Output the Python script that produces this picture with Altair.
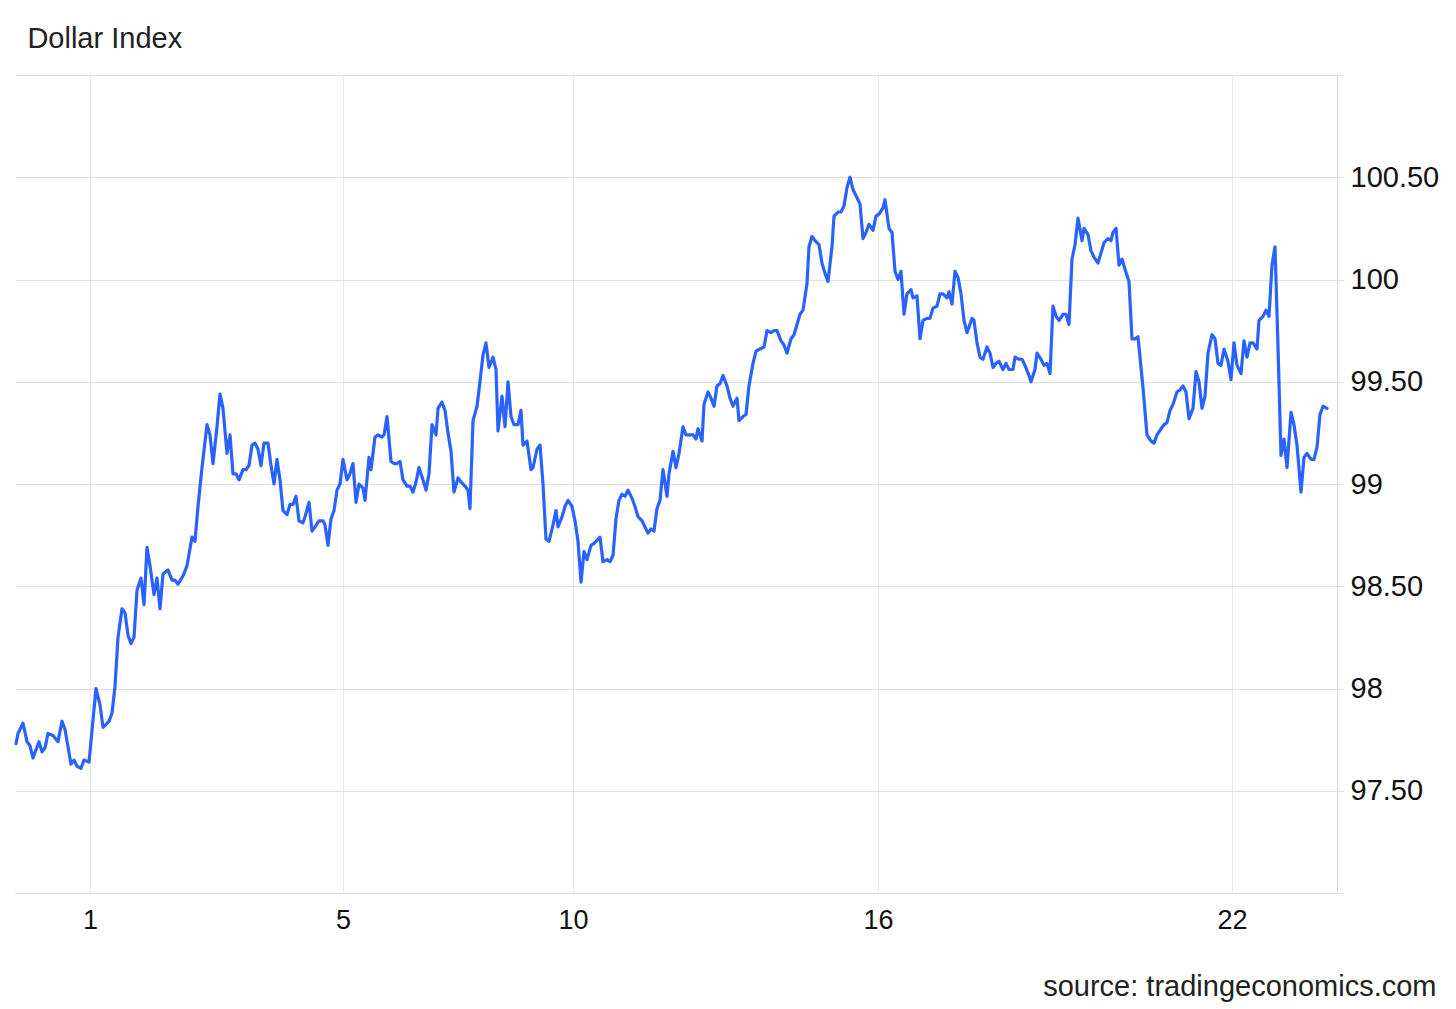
import altair as alt
import pandas as pd

# session time index (trading-time units) and Dollar Index values
T = [0.5, 1.5, 4, 6, 7.5, 9, 12, 13.5, 15, 16.5, 19, 21.5, 23.5, 25, 28, 29.5, 31, 33, 34.5, 37,
     40.5, 42.5, 44, 46, 47, 48.5, 50, 51.5, 53.5, 55, 56.5, 58, 59.5, 61, 63, 64.5, 66, 67.5, 69.5, 71,
     72.5, 74, 76.5, 78.5, 80, 81.5, 84, 86, 88.5, 90, 91.5, 93.5, 96, 97.5, 99, 101, 102.5, 104, 106, 107.5,
     109, 110.5, 112, 114, 115.5, 117, 118.5, 120, 121.5, 123, 124.5, 126.5, 128, 129.5, 131, 132.5, 134, 136, 137.5, 139,
     140.5, 142, 144, 145, 147, 148.5, 150, 152, 154, 155, 156.5, 158, 159.5, 161, 162.5, 164, 166, 167.5, 169, 170.5,
     172, 174, 175, 177, 178, 180, 181.5, 183.5, 184.5, 186, 188, 189.5, 191, 192.5, 194, 196, 197.5, 199, 200.5, 202,
     204, 205.5, 207, 208.5, 210.5, 211.5, 213.5, 215, 216.5, 218, 219.5, 221.5, 223, 225, 226.5, 227.5, 229, 231, 232, 234,
     235.5, 237, 239, 240.5, 241.5, 243.5, 245, 246.5, 248, 249.5, 251.5, 253, 254, 256, 258, 259, 261, 262.5, 264, 265.5,
     267, 269, 270.5, 271.5, 273.5, 275, 276.5, 278.5, 280, 281.5, 283, 284.5, 286, 288, 289.5, 292.5, 294, 296, 297.5, 299,
     300.5, 302, 303.5, 305, 306.5, 308.5, 310, 311.5, 313.5, 315, 316.5, 318, 319.5, 321, 322.5, 324, 326, 327, 329, 330.5,
     332, 334, 335.5, 337, 339, 340.5, 341.5, 343.5, 344.5, 346.5, 348, 349.5, 351, 352.5, 354, 356, 357.5, 359, 361, 362,
     364, 365.5, 367, 369, 370.5, 372.5, 374.5, 376, 378, 379.5, 381, 383, 384.5, 386, 388, 389.5, 391, 392.5, 394, 396,
     397, 398.5, 400, 402, 403.5, 405, 406.5, 408.5, 409.5, 411.5, 413, 414.5, 416, 417.5, 419, 421, 422.5, 424, 425.5, 427,
     429, 430.5, 432, 434, 435, 437, 438.5, 440, 441.5, 443, 444.5, 446, 448, 449, 451, 452.5, 454, 456, 457.5, 459,
     461, 462.5, 464, 466, 467, 468.5, 470, 471.5, 473, 474.5, 476, 478.5, 479.5, 481, 482.5, 484, 486, 487.5, 489, 490.5,
     492, 494, 495.5, 497, 499, 500, 502, 503.5, 505, 507, 508, 510, 511, 513, 514.5, 516, 517.5, 519, 520.5, 522,
     524, 525.5, 527, 528.5, 530, 531.5, 533.5, 534.5, 536.5, 538, 539.5, 541.5, 543, 544.5, 546.5, 548, 549, 550.5, 552, 553.5,
     555, 557, 558.5, 560, 561.5, 564, 566, 568, 569.5, 571, 573, 574.5, 576, 577.5, 579, 581, 582.5, 584, 585.5, 587,
     589, 590.5, 592, 593.5, 595, 596.5, 598.5, 600, 601.5, 603, 604.5, 606.5, 608, 609.5, 611, 613, 614.5, 616, 617.5, 619,
     621, 622, 624, 625.5, 627, 628.5, 630, 631.5, 633, 634.5, 636, 638, 639.5, 641, 643, 644.5, 646, 648, 649.5, 651,
     652.5, 654, 656]

V = [97.73, 97.78, 97.83, 97.74, 97.72, 97.66, 97.74, 97.69, 97.71, 97.78, 97.77, 97.74, 97.84, 97.80, 97.63, 97.65, 97.62, 97.61, 97.65, 97.64,
     98.00, 97.92, 97.81, 97.83, 97.84, 97.88, 98.01, 98.25, 98.39, 98.37, 98.26, 98.22, 98.25, 98.48, 98.54, 98.41, 98.69, 98.60, 98.46, 98.54,
     98.39, 98.56, 98.58, 98.53, 98.53, 98.51, 98.55, 98.60, 98.74, 98.72, 98.89, 99.08, 99.29, 99.24, 99.10, 99.28, 99.44, 99.37, 99.15, 99.24,
     99.05, 99.05, 99.02, 99.07, 99.07, 99.09, 99.19, 99.20, 99.17, 99.09, 99.20, 99.20, 99.09, 99.00, 99.12, 99.02, 98.87, 98.85, 98.90, 98.90,
     98.94, 98.82, 98.81, 98.84, 98.91, 98.77, 98.79, 98.82, 98.82, 98.80, 98.70, 98.83, 98.87, 98.97, 99.00, 99.12, 99.02, 99.05, 99.10, 98.91,
     99.00, 98.98, 98.92, 99.13, 99.07, 99.23, 99.24, 99.23, 99.24, 99.33, 99.11, 99.10, 99.10, 99.11, 99.02, 98.99, 98.99, 98.96, 99.01, 99.08,
     99.02, 98.97, 99.05, 99.29, 99.24, 99.37, 99.40, 99.36, 99.25, 99.16, 98.96, 99.03, 99.01, 98.99, 98.97, 98.88, 99.31, 99.38, 99.46, 99.63,
     99.69, 99.57, 99.62, 99.56, 99.26, 99.43, 99.28, 99.50, 99.33, 99.29, 99.29, 99.36, 99.19, 99.21, 99.07, 99.08, 99.17, 99.19, 99.00, 98.73,
     98.72, 98.80, 98.87, 98.79, 98.84, 98.89, 98.92, 98.89, 98.82, 98.72, 98.52, 98.67, 98.63, 98.70, 98.71, 98.74, 98.62, 98.63, 98.62, 98.65,
     98.83, 98.92, 98.95, 98.94, 98.97, 98.93, 98.89, 98.84, 98.82, 98.79, 98.76, 98.78, 98.77, 98.88, 98.92, 99.07, 98.94, 99.05, 99.16, 99.08,
     99.15, 99.28, 99.24, 99.24, 99.24, 99.22, 99.27, 99.21, 99.39, 99.45, 99.42, 99.38, 99.48, 99.49, 99.53, 99.48, 99.42, 99.38, 99.42, 99.31,
     99.33, 99.34, 99.48, 99.59, 99.65, 99.66, 99.67, 99.75, 99.74, 99.75, 99.75, 99.70, 99.68, 99.64, 99.71, 99.73, 99.78, 99.83, 99.85, 99.98,
     100.16, 100.21, 100.19, 100.17, 100.08, 100.03, 99.99, 100.16, 100.31, 100.33, 100.33, 100.36, 100.45, 100.50, 100.44, 100.40, 100.37, 100.20, 100.23, 100.27,
     100.24, 100.31, 100.32, 100.35, 100.39, 100.25, 100.23, 100.04, 100.00, 100.04, 99.83, 99.93, 99.95, 99.91, 99.92, 99.71, 99.80, 99.81, 99.81, 99.86,
     99.87, 99.93, 99.93, 99.91, 99.94, 99.88, 100.04, 100.01, 99.93, 99.80, 99.74, 99.81, 99.80, 99.69, 99.62, 99.61, 99.67, 99.64, 99.57, 99.59,
     99.60, 99.56, 99.59, 99.56, 99.56, 99.62, 99.61, 99.61, 99.58, 99.53, 99.50, 99.56, 99.64, 99.61, 99.58, 99.59, 99.54, 99.87, 99.82, 99.80,
     99.83, 99.83, 99.78, 100.10, 100.17, 100.30, 100.19, 100.25, 100.22, 100.14, 100.11, 100.08, 100.13, 100.18, 100.20, 100.19, 100.23, 100.25, 100.07, 100.10,
     100.05, 99.99, 99.71, 99.71, 99.72, 99.47, 99.24, 99.21, 99.20, 99.24, 99.27, 99.29, 99.30, 99.36, 99.39, 99.45, 99.46, 99.48, 99.45, 99.32,
     99.37, 99.55, 99.50, 99.37, 99.43, 99.64, 99.73, 99.71, 99.59, 99.58, 99.66, 99.60, 99.51, 99.69, 99.58, 99.54, 99.70, 99.62, 99.69, 99.69,
     99.66, 99.80, 99.82, 99.85, 99.82, 100.07, 100.16, 99.67, 99.14, 99.22, 99.08, 99.35, 99.29, 99.19, 98.96, 99.13, 99.15, 99.12, 99.12, 99.18,
     99.34, 99.38, 99.37]

# x-axis tick positions (session time index) and their day labels
TICK_POS = [37.5, 164, 279, 431.5, 608.5]
TICK_LABELS = ["1", "5", "10", "16", "22"]

Y_TICKS = [97, 97.5, 98, 98.5, 99, 99.5, 100, 100.5, 101]

df = pd.DataFrame({"t": T, "value": V})

label_expr = "''"
for p, l in reversed(list(zip(TICK_POS, TICK_LABELS))):
    label_expr = f"datum.value == {p} ? '{l}' : ({label_expr})"

y_label_expr = ("(datum.value <= 97 || datum.value >= 101) ? '' : "
                "(datum.value % 1 == 0 ? format(datum.value, 'd') : format(datum.value, '.2f'))")

FONT = "Liberation Sans"

chart = alt.Chart(df).mark_line(
    color="#2962ff", strokeWidth=3.2, strokeJoin="round", strokeCap="round"
).encode(
    x=alt.X(
        "t:Q",
        scale=alt.Scale(domain=[0, 661], nice=False, zero=False),
        axis=alt.Axis(
            values=TICK_POS,
            labelExpr=label_expr,
            grid=True,
            gridColor="#e3ecf0",
            gridWidth=1,
            ticks=False,
            domain=True,
            domainColor="#d8dde1",
            labelFont=FONT,
            labelFontSize=27,
            labelColor="#111111",
            labelPadding=14,
            labelFlush=False,
            labelOverlap=False,
            title="source: tradingeconomics.com",
            titleFont=FONT,
            titleFontSize=29,
            titleFontWeight="normal",
            titleColor="#222222",
            titleAlign="right",
            titleBaseline="alphabetic",
            titleX=1421,
            titleY=102,
        ),
    ),
    y=alt.Y(
        "value:Q",
        scale=alt.Scale(domain=[97, 101], nice=False, zero=False),
        axis=alt.Axis(
            orient="right",
            values=Y_TICKS,
            labelExpr=y_label_expr,
            grid=True,
            gridColor="#dfe2e5",
            gridWidth=1,
            ticks=True,
            tickSize=7,
            tickColor="#dfe2e5",
            domain=True,
            domainColor="#d8dbde",
            labelFont=FONT,
            labelFontSize=29,
            labelColor="#111111",
            labelPadding=6,
            labelOverlap=False,
            labelFlush=False,
            title="",
        ),
    ),
).properties(
    width=1322,
    height=818,
    autosize=alt.AutoSizeParams(type="none"),
    padding={"left": 7, "top": 67, "right": 111, "bottom": 110},
    title=alt.TitleParams(
        "Dollar Index",
        anchor="start",
        font=FONT,
        fontSize=29,
        fontWeight="normal",
        color="#222222",
        dx=13,
        offset=7,
    ),
).configure_view(strokeWidth=0)

chart.save("out.html", embed_options={"renderer": "svg", "actions": False})
